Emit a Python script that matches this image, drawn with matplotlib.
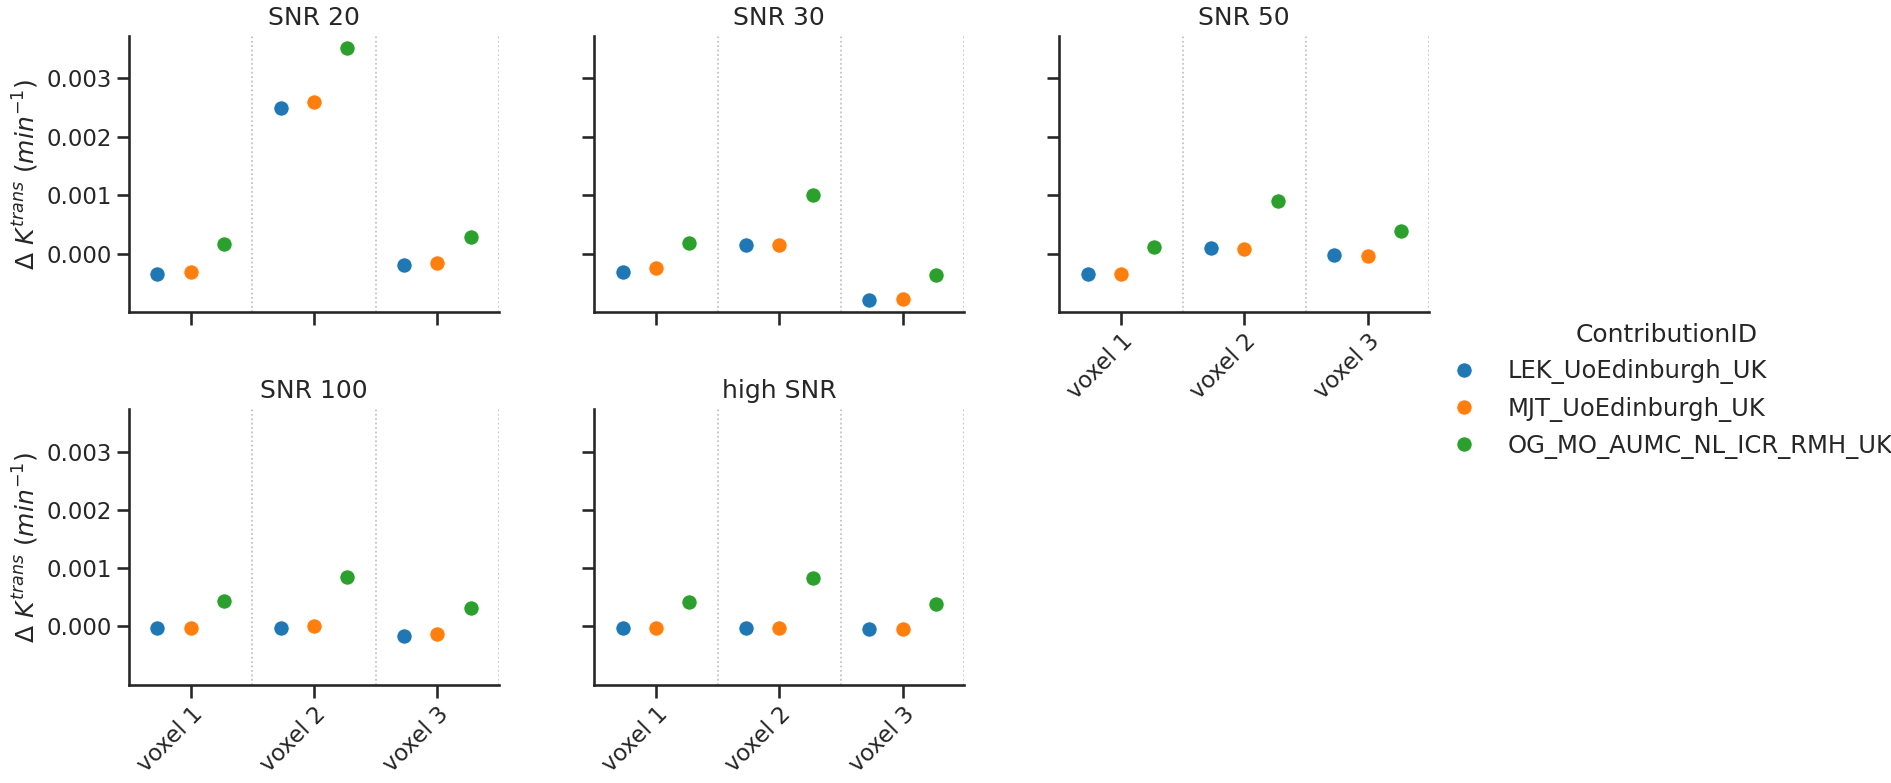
import matplotlib
matplotlib.use("Agg")
import matplotlib.pyplot as plt
import numpy as np
import seaborn as sns

sns.set_theme(context="talk", style="ticks")
plt.rcParams['font.family'] = ['DejaVu Sans']

voxels = ["voxel 1", "voxel 2", "voxel 3"]
contributions = ["LEK_UoEdinburgh_UK", "MJT_UoEdinburgh_UK", "OG_MO_AUMC_NL_ICR_RMH_UK"]
panel_titles = ["SNR 20", "SNR 30", "SNR 50", "SNR 100", "high SNR"]
colors = ["#1f77b4", "#ff7f0e", "#2ca02c"]

# values per panel: rows = contribution, cols = voxel
snr20 = [[-0.000343, 0.002486, -0.000189],
         [-0.000309, 0.002589, -0.000154],
         [0.000171, 0.003514, 0.000291]]
snr30 = [[-0.000309, 0.000154, -0.000789],
         [-0.000251, 0.000154, -0.000771],
         [0.000189, 0.001011, -0.000371]]
snr50 = [[-0.000354, 0.000091, -0.000017],
         [-0.000354, 0.000074, -0.000034],
         [0.000109, 0.000909, 0.000383]]
snr100 = [[-0.000034, -0.000034, -0.000160],
          [-0.000034, 0.000000, -0.000137],
          [0.000429, 0.000840, 0.000309]]
snrhigh = [[-0.000034, -0.000034, -0.000051],
           [-0.000034, -0.000034, -0.000051],
           [0.000411, 0.000823, 0.000377]]
panels = [snr20, snr30, snr50, snr100, snrhigh]

W, H = 1891, 783
fig = plt.figure(figsize=(W / 100, H / 100), dpi=100)

lefts = [129, 594.3, 1059.3]
tops = [35.7, 409]
bottoms = [312.3, 685]
width_px = 370

axes = []
for i, data in enumerate(panels):
    r, c = divmod(i, 3)
    rect = [lefts[c] / W, 1 - bottoms[r] / H, width_px / W, (bottoms[r] - tops[r]) / H]
    ax = fig.add_axes(rect, sharey=axes[0] if axes else None)
    axes.append(ax)
    x = np.arange(len(voxels))
    offsets = np.linspace(-0.27, 0.27, len(contributions))
    for j, (name, col) in enumerate(zip(contributions, colors)):
        ax.plot(x + offsets[j], data[j], linestyle="none", marker="o", ms=11,
                color=col, mec="white", mew=0.6, label=name, zorder=3)
    for v in [0.5, 1.5, 2.5]:
        ax.axvline(v, color="#bbbbbb", linestyle=":", linewidth=1.2, zorder=1)
    ax.set_xlim(-0.5, 2.5)
    ax.set_xticks(x)
    ax.set_title(panel_titles[i], fontsize=18, pad=8)
    sns.despine(ax=ax)
    if r == 1 or c == 2:
        ax.set_xticklabels(voxels, rotation=45, ha="right", rotation_mode="anchor")
    else:
        ax.set_xticklabels([])
    if c == 0:
        ax.set_ylabel(r"$\Delta\ K^{trans}\ (min^{-1})$", fontsize=18)
    else:
        ax.tick_params(axis="y", labelleft=False)

axes[0].set_yticks([0.0, 0.001, 0.002, 0.003])
axes[0].yaxis.set_major_formatter(matplotlib.ticker.FormatStrFormatter("%.3f"))
allvals = np.array(panels).ravel()
rng = allvals.max() - allvals.min()
axes[0].set_ylim(allvals.min() - 0.05 * rng, allvals.max() + 0.05 * rng)

handles, labels = axes[0].get_legend_handles_labels()
leg = fig.legend(handles, labels, title="ContributionID", loc="center left",
                 bbox_to_anchor=(1418 / W, 1 - 391 / H), frameon=False,
                 fontsize=17.5, title_fontsize=18)

fig.savefig("out.png", dpi=100)
